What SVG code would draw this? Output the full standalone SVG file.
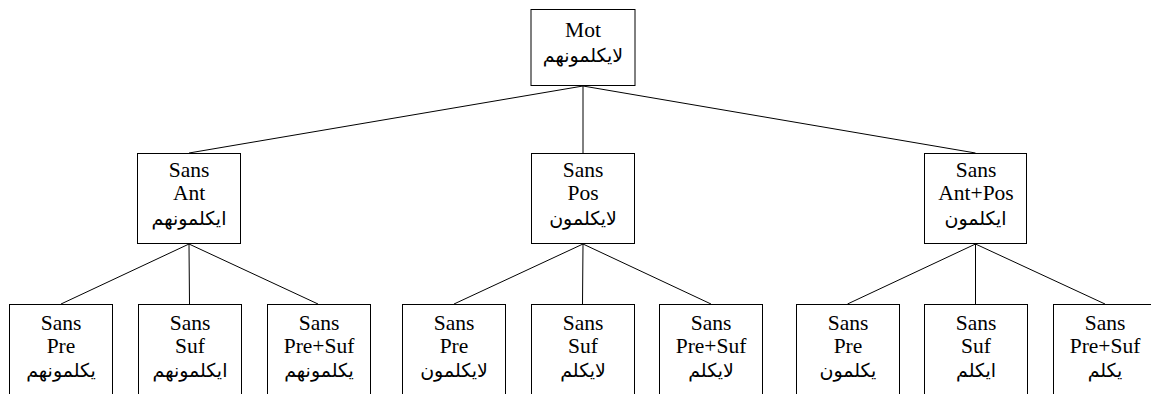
<svg xmlns="http://www.w3.org/2000/svg" width="1151" height="394" viewBox="0 0 1151 394">
<style>
.box{fill:#fff;stroke:#000;stroke-width:1}
.lat{font-family:"Liberation Serif","Times New Roman",serif;font-size:21.5px;text-anchor:middle;fill:#000}
.ar{font-family:"DejaVu Sans","Noto Sans",sans-serif;font-size:19px;text-anchor:middle;fill:#000}
.edge{stroke:#000;stroke-width:1;fill:none}
</style>
<rect width="1151" height="394" fill="#fff"/>
<g id="connectors">
<line class="edge" x1="583" y1="86" x2="189" y2="153"/>
<line class="edge" x1="583" y1="86" x2="583" y2="153"/>
<line class="edge" x1="583" y1="86" x2="975.5" y2="153"/>
<line class="edge" x1="189" y1="244" x2="61" y2="304"/>
<line class="edge" x1="189" y1="244" x2="189.5" y2="304"/>
<line class="edge" x1="189" y1="244" x2="318" y2="304"/>
<line class="edge" x1="583" y1="244" x2="454" y2="304"/>
<line class="edge" x1="583" y1="244" x2="582.5" y2="304"/>
<line class="edge" x1="583" y1="244" x2="711" y2="304"/>
<line class="edge" x1="975.5" y1="244" x2="847.5" y2="304"/>
<line class="edge" x1="975.5" y1="244" x2="975.5" y2="304"/>
<line class="edge" x1="975.5" y1="244" x2="1105" y2="304"/>
</g>
<g id="n0"><rect class="box" x="531" y="9.5" width="104" height="76"/>
<text class="lat" x="583" y="37">Mot</text><text class="ar" x="583" y="62">لايكلمونهم</text></g>
<g id="n1"><rect class="box" x="137.5" y="153.5" width="103" height="90"/>
<text class="lat" x="189" y="177">Sans</text><text class="lat" x="189" y="200">Ant</text><text class="ar" x="189" y="225">ايكلمونهم</text></g>
<g id="n2"><rect class="box" x="531.5" y="153.5" width="103" height="90"/>
<text class="lat" x="583" y="177">Sans</text><text class="lat" x="583" y="200">Pos</text><text class="ar" x="583" y="225">لايكلمون</text></g>
<g id="n3"><rect class="box" x="924.5" y="153.5" width="102" height="90"/>
<text class="lat" x="976" y="177">Sans</text><text class="lat" x="976" y="200">Ant+Pos</text><text class="ar" x="975.5" y="225">ايكلمون</text></g>
<g id="n4"><rect class="box" x="9.5" y="304.5" width="103" height="100"/>
<text class="lat" x="61" y="330">Sans</text><text class="lat" x="61" y="353">Pre</text><text class="ar" x="61" y="377">يكلمونهم</text></g>
<g id="n5"><rect class="box" x="138.5" y="304.5" width="103" height="100"/>
<text class="lat" x="190" y="330">Sans</text><text class="lat" x="190" y="353">Suf</text><text class="ar" x="190" y="377">ايكلمونهم</text></g>
<g id="n6"><rect class="box" x="267.5" y="304.5" width="103" height="100"/>
<text class="lat" x="319" y="330">Sans</text><text class="lat" x="319" y="353">Pre+Suf</text><text class="ar" x="319" y="377">يكلمونهم</text></g>
<g id="n7"><rect class="box" x="402.5" y="304.5" width="103" height="100"/>
<text class="lat" x="454" y="330">Sans</text><text class="lat" x="454" y="353">Pre</text><text class="ar" x="454" y="377">لايكلمون</text></g>
<g id="n8"><rect class="box" x="531.5" y="304.5" width="103" height="100"/>
<text class="lat" x="583" y="330">Sans</text><text class="lat" x="583" y="353">Suf</text><text class="ar" x="583" y="377">لايكلم</text></g>
<g id="n9"><rect class="box" x="659.5" y="304.5" width="103" height="100"/>
<text class="lat" x="711" y="330">Sans</text><text class="lat" x="711" y="353">Pre+Suf</text><text class="ar" x="711" y="377">لايكلم</text></g>
<g id="n10"><rect class="box" x="796.5" y="304.5" width="103" height="100"/>
<text class="lat" x="848" y="330">Sans</text><text class="lat" x="848" y="353">Pre</text><text class="ar" x="848" y="377">يكلمون</text></g>
<g id="n11"><rect class="box" x="924.5" y="304.5" width="103" height="100"/>
<text class="lat" x="976" y="330">Sans</text><text class="lat" x="976" y="353">Suf</text><text class="ar" x="976" y="377">ايكلم</text></g>
<g id="n12"><rect class="box" x="1053.5" y="304.5" width="103" height="100"/>
<text class="lat" x="1105" y="330">Sans</text><text class="lat" x="1105" y="353">Pre+Suf</text><text class="ar" x="1105" y="377">يكلم</text></g>
</svg>
